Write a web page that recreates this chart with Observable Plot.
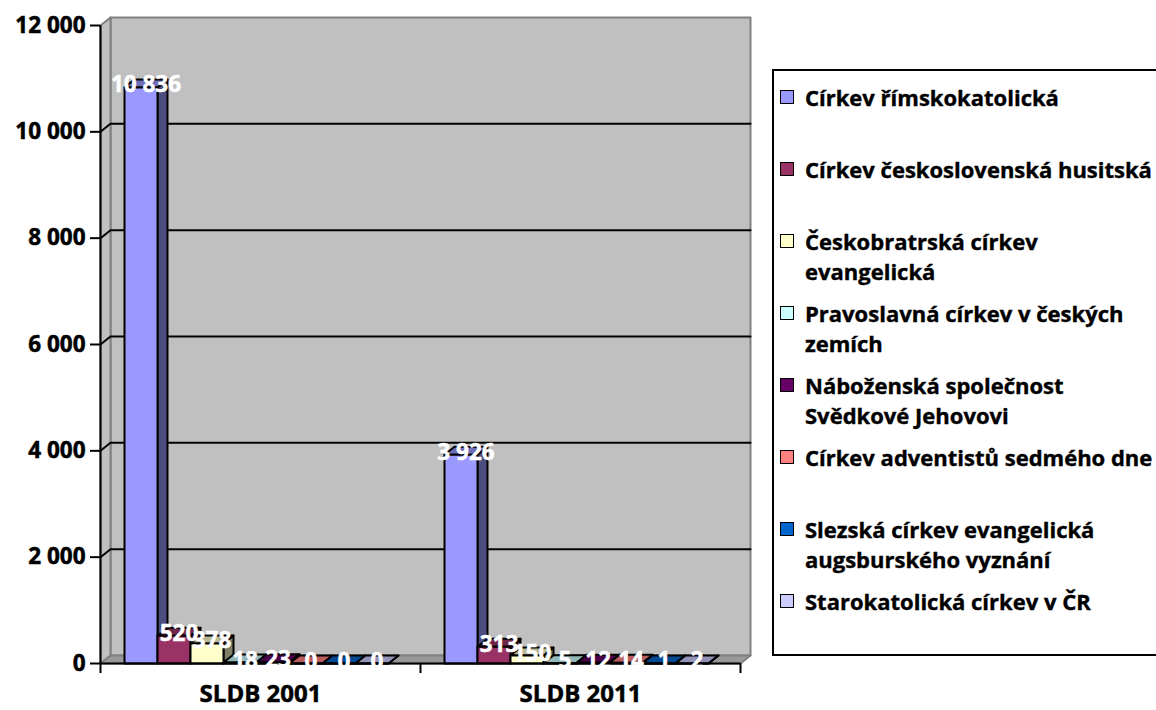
<!DOCTYPE html>
<html><head><meta charset="utf-8">
<script src="https://cdn.jsdelivr.net/npm/d3@7"></script>
<script src="https://cdn.jsdelivr.net/npm/@observablehq/plot@0.6"></script>
<style>
body{margin:0;background:#fff;font-family:"Open Sans",sans-serif;}
#wrap{position:relative;width:1156px;height:710px;overflow:hidden;}
#chart{position:absolute;left:0;top:0;}
#chart [aria-label="y-axis tick label"], #chart [aria-label="x-axis tick label"]{stroke:#000;stroke-width:0.5px;}
#legend{position:absolute;left:772px;top:69px;width:420px;height:587px;border:2px solid #000;box-sizing:border-box;background:#fff;}
.item{position:absolute;left:31px;font-weight:bold;font-size:22px;line-height:30px;color:#000;white-space:pre;-webkit-text-stroke:0.4px #000;}
.sw{position:absolute;left:6px;width:12px;height:12px;border:1.5px solid #000;}
</style>
</head><body>
<div id="wrap"><div id="chart"></div><div id="legend"></div></div>
<script>
// ---- data ----
const years = ["SLDB 2001", "SLDB 2011"];
const series = [
  "Církev římskokatolická",
  "Církev československá husitská",
  "Českobratrská církev evangelická",
  "Pravoslavná církev v českých zemích",
  "Náboženská společnost Svědkové Jehovovi",
  "Církev adventistů sedmého dne",
  "Slezská církev evangelická augsburského vyznání",
  "Starokatolická církev v ČR"
];
const legendLabels = [
  "Církev římskokatolická",
  "Církev československá husitská",
  "Českobratrská církev\nevangelická",
  "Pravoslavná církev v českých\nzemích",
  "Náboženská společnost\nSvědkové Jehovovi",
  "Církev adventistů sedmého dne",
  "Slezská církev evangelická\naugsburského vyznání",
  "Starokatolická církev v ČR"
];
const colors = ["#9999FF", "#993366", "#FFFFCC", "#CCFFFF", "#660066", "#FF8080", "#0066CC", "#CCCCFF"];
const values2001 = [10836, 520, 378, 18, 23, 0, 0, 0];
const values2011 = [3926, 313, 150, 5, 12, 14, 1, 2];
const yTicks = [0, 2000, 4000, 6000, 8000, 10000, 12000];

// ---- layout ----
const W = 1156, H = 710, mL = 100, mR = 416, mT = 25, mB = 47;
const yMax = 12000;
const nG = years.length;
const pxX = (W - mL - mR) / nG;
const pxY = (H - mT - mB) / yMax;
const dX = 10 / pxX, dY = 8 / pxY;      // 3D depth in data units
const barOff = 24 / pxX, barW = 33 / pxX;

const fmt = d => d3.format(",")(d).replace(/,/g, " ");
const shade = (c, k) => { const r = d3.rgb(c); return d3.rgb(r.r * k, r.g * k, r.b * k).formatHex(); };

const bars = [];
years.forEach((yr, gi) => {
  const vals = gi === 0 ? values2001 : values2011;
  series.forEach((s, si) => {
    const x1 = gi + barOff + si * barW;
    bars.push({year: yr, series: s, v: vals[si], x1, x2: x1 + barW, color: colors[si]});
  });
});

const polys = [];
bars.forEach((b, i) => {
  const {x1, x2, v} = b;
  const add = (nm, pts, fill) => pts.forEach(([x, y]) => polys.push({id: i + nm, x, y, fill}));
  add("s", [[x2, 0], [x2 + dX, dY], [x2 + dX, v + dY], [x2, v]], shade(b.color, 0.5));
  add("t", [[x1, v], [x2, v], [x2 + dX, v + dY], [x1 + dX, v + dY]], shade(b.color, 0.72));
  add("f", [[x1, 0], [x2, 0], [x2, v], [x1, v]], b.color);
});

const wallPts = [];
const addW = (id, pts, fill) => pts.forEach(([x, y]) => wallPts.push({id, x, y, fill}));
addW("back", [[dX, dY], [nG + dX, dY], [nG + dX, yMax + dY], [dX, yMax + dY]], "#C0C0C0");
addW("left", [[0, 0], [dX, dY], [dX, yMax + dY], [0, yMax]], "#C0C0C0");
addW("floor", [[0, 0], [nG, 0], [nG + dX, dY], [dX, dY]], "#999999");

const gridPts = [];
yTicks.filter(t => t > 0 && t < yMax).forEach(t => {
  gridPts.push({t, x: 0, y: t}, {t, x: dX, y: t + dY}, {t, x: nG + dX, y: t + dY});
});

const chart = Plot.plot({
  width: W, height: H, marginLeft: mL, marginRight: mR, marginTop: mT, marginBottom: mB,
  x: {domain: [0, nG]},
  y: {domain: [0, yMax]},
  color: {type: "identity"},
  style: {fontFamily: "'Open Sans', sans-serif", fontSize: "22.5px", fontWeight: "bold", color: "#000", background: "transparent", overflow: "visible"},
  marks: [
    Plot.line(wallPts, {x: "x", y: "y", z: "id", fill: "fill", stroke: "#808080", strokeWidth: 2, curve: "linear-closed"}),
    Plot.line(gridPts, {x: "x", y: "y", z: "t", stroke: "#000", strokeWidth: 2}),
    Plot.line(polys, {x: "x", y: "y", z: "id", fill: "fill", stroke: "#000", strokeWidth: 2, curve: "linear-closed"}),
    Plot.ruleX([0], {y1: 0, y2: yMax, stroke: "#000", strokeWidth: 2}),
    Plot.ruleY([0], {stroke: "#000", strokeWidth: 2}),
    Plot.axisY({ticks: yTicks, tickFormat: fmt, tickSize: 10, tickPadding: 5, label: null, strokeWidth: 2}),
    Plot.axisX({ticks: d3.range(nG + 1), tickSize: 10, tickFormat: () => "", label: null, strokeWidth: 2}),
    Plot.axisX({ticks: years.map((d, i) => i + 0.5), tickSize: 0, tickPadding: 21, fontSize: 24, tickFormat: d => years[Math.floor(d)], label: null}),
    Plot.text(bars, {x: d => (d.x1 + d.x2) / 2 + dX / 2, y: "v", text: d => fmt(d.v), fill: "white", stroke: "white", strokeWidth: 0.5, fontSize: 22.5, fontWeight: "bold", lineAnchor: "bottom", dy: 5})
  ]
});
document.getElementById("chart").appendChild(chart);

const legend = document.getElementById("legend");
series.forEach((s, i) => {
  const top = 11 + 72 * i;
  const sw = document.createElement("div");
  sw.className = "sw";
  sw.style.top = (top + 8) + "px";
  sw.style.background = colors[i];
  legend.appendChild(sw);
  const it = document.createElement("div");
  it.className = "item";
  it.style.top = top + "px";
  it.textContent = legendLabels[i];
  legend.appendChild(it);
});
</script>
</body></html>
